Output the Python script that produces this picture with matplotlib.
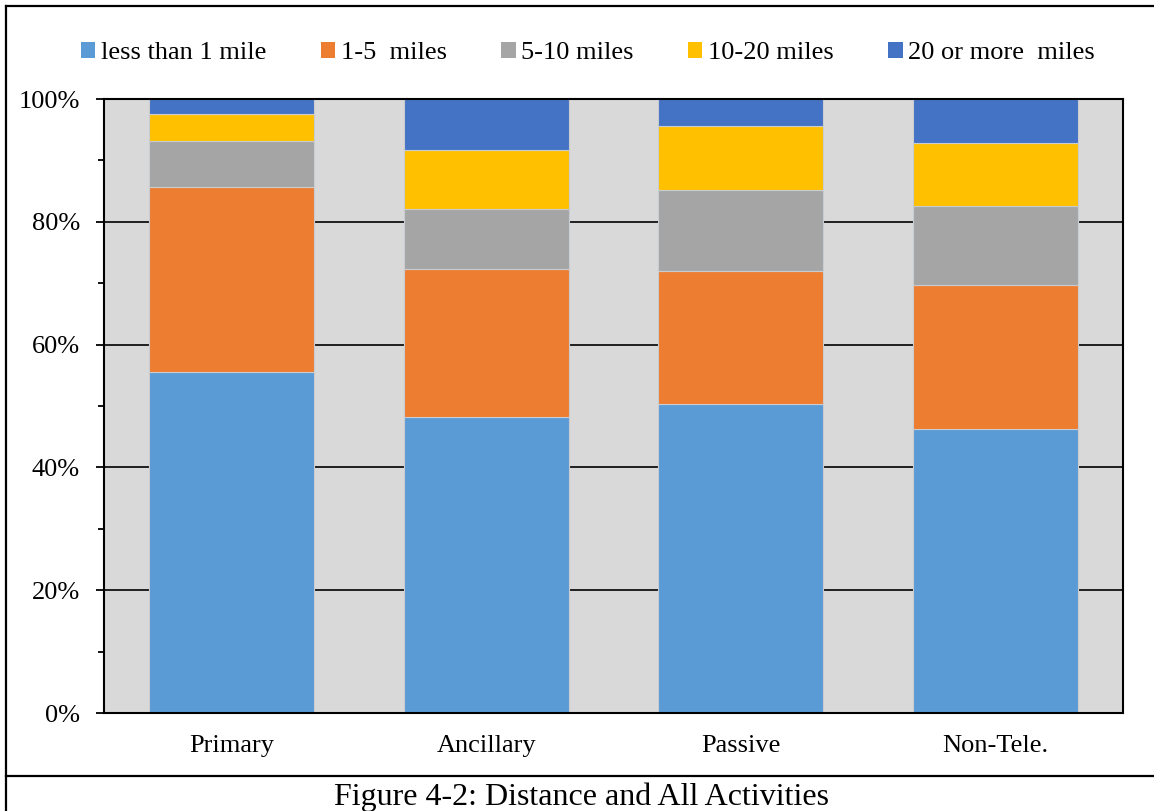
import matplotlib
matplotlib.use("Agg")
import matplotlib.pyplot as plt
from matplotlib.patches import Patch
from matplotlib.lines import Line2D
from matplotlib.ticker import MultipleLocator, FuncFormatter

plt.rcParams['font.family'] = ['Liberation Serif', 'DejaVu Serif']

categories = ["Primary", "Ancillary", "Passive", "Non-Tele."]
series_names = ["less than 1 mile", "1-5  miles", "5-10 miles", "10-20 miles", "20 or more  miles"]
less_than_1 = [55.6, 48.2, 50.3, 46.3]
miles_1_5 = [30.1, 24.1, 21.7, 23.4]
miles_5_10 = [7.5, 9.8, 13.1, 12.9]
miles_10_20 = [4.4, 9.6, 10.5, 10.3]
miles_20_plus = [2.4, 8.3, 4.4, 7.1]
caption = "Figure 4-2: Distance and All Activities"

colors = ["#5B9BD5", "#ED7D31", "#A5A5A5", "#FFC000", "#4472C4"]
series = [less_than_1, miles_1_5, miles_5_10, miles_10_20, miles_20_plus]

fig = plt.figure(figsize=(11.54, 8.11), dpi=100)
ax = fig.add_axes([104 / 1154, 1 - 713 / 811, (1123 - 104) / 1154, (713 - 99) / 811])
ax.set_facecolor("#D9D9D9")

x = list(range(len(categories)))
bottom = [0.0] * len(categories)
for vals, col, name in zip(series, colors, series_names):
    ax.bar(x, vals, width=0.648, bottom=bottom, color=col, label=name,
           edgecolor="#C9CDD2", linewidth=0.8, zorder=3)
    bottom = [b + v for b, v in zip(bottom, vals)]

ax.set_xlim(-0.5, len(categories) - 0.5)
ax.set_ylim(0, 100)
ax.set_xticks(x)
ax.set_xticklabels(categories, fontsize=19)
ax.yaxis.set_major_locator(MultipleLocator(20))
ax.yaxis.set_minor_locator(MultipleLocator(10))
ax.yaxis.set_major_formatter(FuncFormatter(lambda v, p: f"{v:.0f}%"))
ax.tick_params(axis="y", which="major", length=6, width=1.3, pad=11.3, labelsize=19, color="black")
ax.tick_params(axis="y", which="minor", length=4, width=1.3, color="black")
ax.tick_params(axis="x", length=0, pad=15.5)
ax.grid(axis="y", which="major", color="black", linewidth=1.2, zorder=1)
ax.set_axisbelow(True)
for sp in ax.spines.values():
    sp.set_color("black")
    sp.set_linewidth(1.5)
    sp.set_zorder(4)

handles = [Patch(facecolor=c, edgecolor="none") for c in colors]
fig.legend(handles, series_names, loc="center", bbox_to_anchor=(588 / 1154, 1 - 53 / 811),
           ncol=5, frameon=False, fontsize=19, handlelength=0.55, handleheight=0.55,
           handletextpad=0.22, columnspacing=2.05)

# outer frame and caption separator
fig.add_artist(Line2D([6 / 1154, 6 / 1154], [0, 1 - 6 / 811], color="black", lw=1.6,
                      transform=fig.transFigure))
fig.add_artist(Line2D([6 / 1154, 1], [1 - 6 / 811, 1 - 6 / 811], color="black", lw=1.6,
                      transform=fig.transFigure))
fig.add_artist(Line2D([6 / 1154, 1], [1 - 776 / 811, 1 - 776 / 811], color="black", lw=1.6,
                      transform=fig.transFigure))
fig.text(581 / 1154, 6 / 811, caption, ha="center", va="baseline", fontsize=23)

fig.savefig("out.png", dpi=100)
